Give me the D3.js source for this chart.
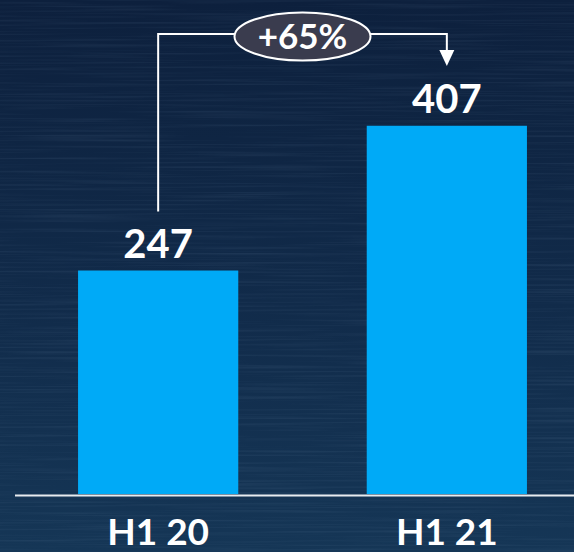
<!DOCTYPE html>
<html>
<head>
<meta charset="utf-8">
<script src="https://cdn.jsdelivr.net/npm/d3@7"></script>
<style>
  html, body { margin: 0; padding: 0; background: #0f2442; }
  svg { display: block; }
  text { font-family: Lato, "Open Sans", sans-serif; font-weight: 700; fill: #ffffff; }
</style>
</head>
<body>
<svg id="chart" width="574" height="552"></svg>
<script>
// Half-year totals
const categories = ["H1 20", "H1 21"];
const values = [247, 407];
const growthLabel = "+65%";

const W = 574, H = 552;
const svg = d3.select("#chart");
const defs = svg.append("defs");

// Navy backdrop with a brushed horizontal grain
const bg = defs.append("linearGradient").attr("id", "bgGrad")
  .attr("x1", 0).attr("y1", 0).attr("x2", 0).attr("y2", 1);
bg.append("stop").attr("offset", "0%").attr("stop-color", "#0d203d");
bg.append("stop").attr("offset", "55%").attr("stop-color", "#112b4a");
bg.append("stop").attr("offset", "100%").attr("stop-color", "#153656");

const grain = defs.append("filter").attr("id", "grain")
  .attr("x", 0).attr("y", 0).attr("width", "100%").attr("height", "100%");
grain.append("feTurbulence").attr("type", "fractalNoise")
  .attr("baseFrequency", "0.006 0.45").attr("numOctaves", 2).attr("seed", 7)
  .attr("result", "noise");
grain.append("feColorMatrix").attr("in", "noise").attr("type", "matrix")
  .attr("values", "0 0 0 0 0.35  0 0 0 0 0.5  0 0 0 0 0.7  0 0 0 0.9 -0.4");

svg.append("rect").attr("width", W).attr("height", H).attr("fill", "url(#bgGrad)");
svg.append("rect").attr("width", W).attr("height", H).attr("filter", "url(#grain)").attr("opacity", 0.22);

// Scales
const baseY = 494;
const x = d3.scaleBand().domain(categories).range([31, 574])
  .paddingInner(0.445).paddingOuter(0.163);
const y = d3.scaleLinear().domain([0, 546]).range([baseY, 0]);

// Bars
svg.selectAll("rect.bar").data(values).join("rect")
  .attr("class", "bar")
  .attr("x", (d, i) => x(categories[i]))
  .attr("y", d => y(d))
  .attr("width", x.bandwidth())
  .attr("height", d => baseY - y(d))
  .attr("fill", "#00aaf7");

// Baseline
svg.append("line")
  .attr("x1", 15).attr("x2", W)
  .attr("y1", baseY + 1.5).attr("y2", baseY + 1.5)
  .attr("stroke", "#e8ecf0").attr("stroke-width", 2);

// Value labels
svg.selectAll("text.val").data(values).join("text")
  .attr("class", "val")
  .attr("x", (d, i) => x(categories[i]) + x.bandwidth() / 2)
  .attr("y", d => y(d) - 13)
  .attr("text-anchor", "middle")
  .attr("font-size", 40)
  .text(d => d);

// Category labels
svg.selectAll("text.cat").data(categories).join("text")
  .attr("class", "cat")
  .attr("x", d => x(d) + x.bandwidth() / 2)
  .attr("y", 545)
  .attr("text-anchor", "middle")
  .attr("font-size", 37)
  .text(d => d);

// Growth connector from the first bar to the second
const cx0 = x(categories[0]) + x.bandwidth() / 2;
const cx1 = x(categories[1]) + x.bandwidth() / 2;
const lineY = 34;
const startY = y(values[0]) - 59;
const tipY = 66;

svg.append("path")
  .attr("d", `M${cx0},${startY} V${lineY} H${cx1} V${tipY - 14}`)
  .attr("fill", "none").attr("stroke", "#ffffff").attr("stroke-width", 2);
svg.append("path")
  .attr("d", `M${cx1 - 7.5},${tipY - 16} L${cx1 + 7.5},${tipY - 16} L${cx1},${tipY} Z`)
  .attr("fill", "#ffffff");

const ex = (cx0 + cx1) / 2;
svg.append("ellipse")
  .attr("cx", ex).attr("cy", 36.5).attr("rx", 68).attr("ry", 24)
  .attr("fill", "#3a3c4e").attr("stroke", "#ffffff").attr("stroke-width", 2);
svg.append("text")
  .attr("x", ex).attr("y", 49)
  .attr("text-anchor", "middle")
  .attr("font-size", 35)
  .text(growthLabel);
</script>
</body>
</html>
